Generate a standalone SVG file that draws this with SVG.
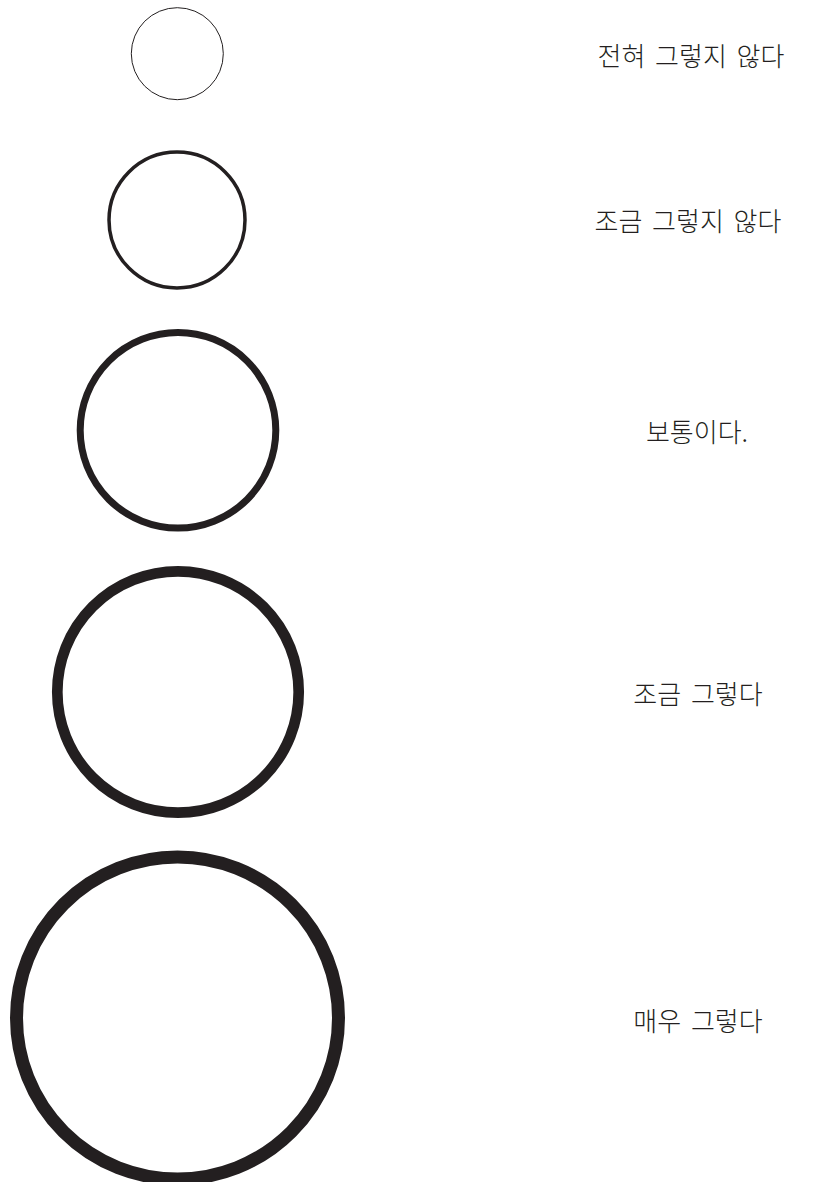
<svg xmlns="http://www.w3.org/2000/svg" width="816" height="1182" viewBox="0 0 816 1182">
<style>
.c{fill:none;stroke:#231f20}
.t{font-family:"Noto Sans CJK KR","Noto Sans",sans-serif;font-size:26px;font-weight:300;fill:#231f20;text-anchor:middle;word-spacing:4px}
</style>
<rect width="816" height="1182" fill="#fff"/>
<g id="n1"><circle class="c" cx="177.3" cy="53.7" r="46" stroke-width="1"/><text class="t" x="691" y="65.5">전혀 그렇지 않다</text></g>
<g id="n2"><circle class="c" cx="177" cy="220" r="68" stroke-width="3.5"/><text class="t" x="688" y="231">조금 그렇지 않다</text></g>
<g id="n3"><circle class="c" cx="178" cy="430.3" r="97.8" stroke-width="7"/><text class="t" x="697" y="441.5">보통이다.</text></g>
<g id="n4"><circle class="c" cx="178" cy="692" r="120.7" stroke-width="10.7"/><text class="t" x="698" y="703.5">조금 그렇다</text></g>
<g id="n5"><circle class="c" cx="177.5" cy="1018" r="161" stroke-width="13"/><text class="t" x="698" y="1030.5">매우 그렇다</text></g>
<g id="connectors"/>
</svg>
